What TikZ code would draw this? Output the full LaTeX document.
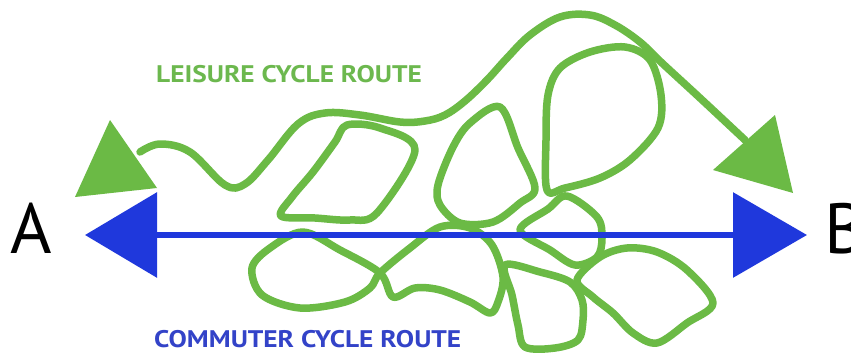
\documentclass[tikz,border=0pt]{standalone}
\usepackage{fontspec}
\setmainfont{PT Sans}
\usetikzlibrary{arrows.meta}
\definecolor{rgreen}{HTML}{6BBA45}
\definecolor{rblue}{HTML}{1F38DC}
\definecolor{tgreen}{HTML}{6CB84E}
\definecolor{tblue}{HTML}{3343C8}
\tikzset{
  route/.style={draw=rgreen, line width=7.5pt, line join=round, line cap=round},
  loopline/.style={route},
  greenhead/.style={fill=rgreen, draw=none},
  endlabel/.style={inner sep=0pt, anchor=base, font=\fontsize{71}{71}\selectfont, text=black},
  routelabel/.style={inner sep=0pt, anchor=base west, xscale=1.14, font=\bfseries\fontsize{24}{24}\selectfont}
}
\begin{document}
\begin{tikzpicture}[x=1pt,y=-1pt]
\useasboundingbox (0,0) rectangle (851,356);
\clip (0,0) rectangle (851,356);
\fill[white] (0,0) rectangle (851,356);

% labels
\node[routelabel, text=tgreen] (leis) at (156,82) {LEISURE CYCLE ROUTE};
\node[routelabel, text=tblue] (comm) at (154,347) {COMMUTER CYCLE ROUTE};
\node[endlabel] (A) at (31,253) {A};
\node[endlabel] (B) at (845,253) {B};

% loops
\draw[loopline] plot[smooth cycle, tension=0.55] coordinates {(347,125) (380,128) (415,150) (377,213) (350,220) (315,218) (281,216) (292,197) (313,172) (335,142)};
\draw[loopline] plot[smooth cycle, tension=0.55] coordinates {(500,107) (518,148) (535,188) (520,203) (493,222) (460,223) (440,205) (438,185) (453,147) (470,123)};
\draw[loopline] plot[smooth cycle, tension=0.55] coordinates {(547,190) (546,140) (548,95) (560,68) (590,52) (625,47) (650,60) (661,95) (658,128) (630,160) (600,178) (565,188)};
\draw[loopline] plot[smooth cycle, tension=0.55] coordinates {(520,230) (548,209) (567,196) (597,217) (602,238) (597,257) (575,265) (550,250)};
\draw[loopline] plot[smooth cycle, tension=0.55] coordinates {(303,232) (270,248) (252,268) (262,295) (300,308) (345,302) (370,288) (380,273) (410,248) (440,227) (470,228) (492,245) (503,277) (498,302) (490,313) (470,302) (440,290) (415,288) (393,297) (380,273) (340,250)};
\draw[loopline] plot[smooth cycle, tension=0.55] coordinates {(505,265) (540,272) (570,282) (582,300) (583,320) (578,340) (555,348) (525,347) (518,325) (512,295)};
\draw[loopline] plot[smooth cycle, tension=0.55] coordinates {(577,280) (600,257) (627,248) (657,252) (687,270) (713,303) (687,323) (657,343) (633,333) (613,313) (593,297)};

% leisure route
\draw[route] plot[smooth, tension=0.6] coordinates {(140,152) (160,144) (190,152) (225,185) (245,184) (268,160) (298,124) (325,113) (360,115) (400,122) (425,121) (445,115) (465,101) (487,80) (507,58) (530,35) (560,17) (590,15) (615,25) (640,42) (662,63) (700,98) (745,140)};
\fill[greenhead] (110,120) -- (75,197) -- (157,188) -- cycle;
\fill[greenhead] (775,115) -- (713,170) -- (793,193) -- cycle;

% commuter route
\coordinate (ta) at (85,235);
\coordinate (tb) at (807,235);
\draw[rblue, line width=6.5pt, {Triangle[length=72pt,width=84pt]}-{Triangle[length=74pt,width=84pt]}] (ta) -- (tb);
\end{tikzpicture}
\end{document}
